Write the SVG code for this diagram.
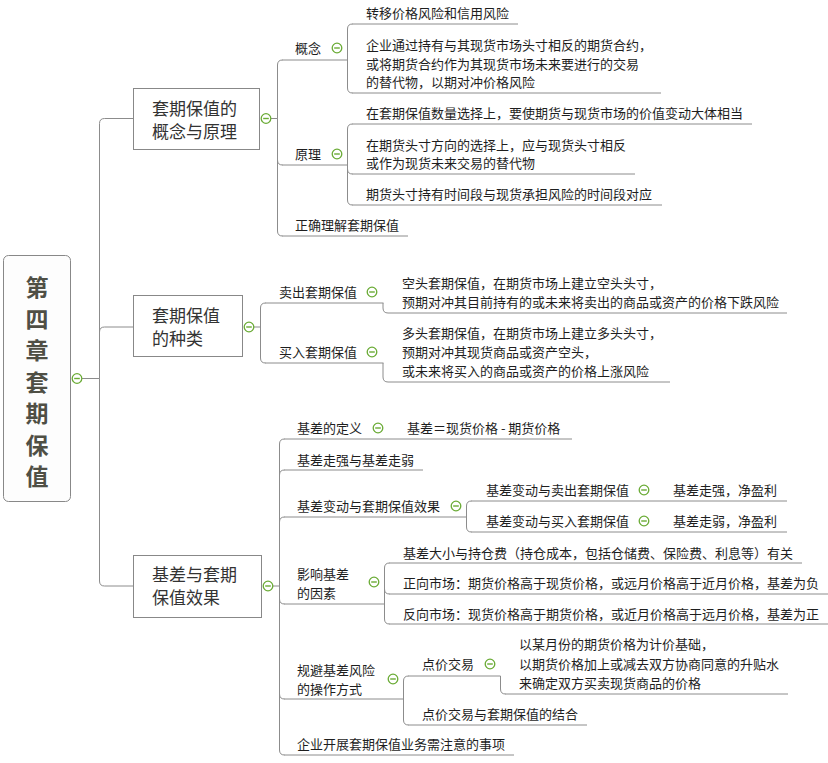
<svg xmlns="http://www.w3.org/2000/svg" width="828" height="763" viewBox="0 0 828 763">
<style>
text{font-family:"Noto Sans CJK SC","Microsoft YaHei",sans-serif;fill:#1e1e1e;}
.t{font-size:13px;}
.b{font-size:17px;fill:#333;}
.root{font-size:23px;font-weight:bold;fill:#4f4f45;}
.box{fill:#fff;stroke:#888;stroke-width:1;}
.u{stroke:#8c8c8c;stroke-width:1;fill:none;}
.c{stroke:#8c8c8c;stroke-width:1;fill:none;}
</style>
<defs>
<g id="m"><circle r="4.8" fill="#fff" stroke="#6aab35" stroke-width="1.3"/><line x1="-2.8" y1="0" x2="2.8" y2="0" stroke="#6aab35" stroke-width="1.4"/></g>
</defs>
<rect width="828" height="763" fill="#fff"/>

<g id="connectors">
<path class="c" d="M82,378.5 H99.5 V123.5 Q99.5,118.5 104.5,118.5 H133"/>
<path class="c" d="M99.5,378.5 V332 Q99.5,327 104.5,327 H133"/>
<path class="c" d="M99.5,378.5 V581 Q99.5,586 104.5,586 H133"/>
<path class="c" d="M271,118.5 H277.5 V65 Q277.5,60 282.5,60"/>
<path class="c" d="M277.5,118.5 V160 Q277.5,165 282.5,165"/>
<path class="c" d="M277.5,118.5 V231 Q277.5,236 282.5,236"/>
<path class="c" d="M347.5,60 V29 Q347.5,24 352.5,24"/>
<path class="c" d="M347.5,60 V88 Q347.5,93 352.5,93"/>
<path class="c" d="M347.5,165 V129 Q347.5,124 352.5,124"/>
<path class="c" d="M347.5,165 V169 Q347.5,174 352.5,174"/>
<path class="c" d="M347.5,165 V200 Q347.5,205 352.5,205"/>
<path class="c" d="M254,327 H260.5 V308 Q260.5,303 265.5,303"/>
<path class="c" d="M260.5,327 V358 Q260.5,363 265.5,363"/>
<path class="c" d="M383,303 V308 Q383,313 388,313"/>
<path class="c" d="M383,363 V377 Q383,382 388,382"/>
<path class="c" d="M273,586 H279.5 V444 Q279.5,439 284.5,439"/>
<path class="c" d="M279.5,586 V475 Q279.5,470 284.5,470"/>
<path class="c" d="M279.5,586 V522 Q279.5,517 284.5,517"/>
<path class="c" d="M279.5,586 V599 Q279.5,604 284.5,604"/>
<path class="c" d="M279.5,586 V694 Q279.5,699 284.5,699"/>
<path class="c" d="M279.5,586 V750 Q279.5,755 284.5,755"/>
<path class="c" d="M392,439 H400"/>
<path class="c" d="M466.5,517 V506 Q466.5,501 471.5,501"/>
<path class="c" d="M466.5,517 V527 Q466.5,532 471.5,532"/>
<path class="c" d="M652,501 H660"/>
<path class="c" d="M652,532 H660"/>
<path class="c" d="M384.5,604 V568 Q384.5,563 389.5,563"/>
<path class="c" d="M384.5,604 V589 Q384.5,594 389.5,594"/>
<path class="c" d="M384.5,604 V619 Q384.5,624 389.5,624"/>
<path class="c" d="M403.5,699 V681 Q403.5,676 408.5,676"/>
<path class="c" d="M403.5,699 V720 Q403.5,725 408.5,725"/>
<path class="c" d="M500.5,676 V689 Q500.5,694 505.5,694"/>
</g>

<g id="root">
<rect x="3.5" y="255.5" width="67" height="246" rx="5" fill="#fdfdfd" stroke="#888"/>
<text class="root" x="37" y="296" text-anchor="middle">第</text>
<text class="root" x="37" y="327.5" text-anchor="middle">四</text>
<text class="root" x="37" y="359" text-anchor="middle">章</text>
<text class="root" x="37" y="390.5" text-anchor="middle">套</text>
<text class="root" x="37" y="422" text-anchor="middle">期</text>
<text class="root" x="37" y="453.5" text-anchor="middle">保</text>
<text class="root" x="37" y="485" text-anchor="middle">值</text>
<use href="#m" x="77" y="378.5"/>
</g>

<g id="n-gainian-yuanli">
<rect class="box" x="133.5" y="88.5" width="126" height="61"/>
<text class="b" x="152" y="114.5">套期保值的</text>
<text class="b" x="152" y="137.5">概念与原理</text>
<use href="#m" x="266" y="118.5"/>
</g>

<g id="n-gainian">
<text class="t" x="295" y="53">概念</text>
<use href="#m" x="337" y="48"/>
<line class="u" x1="282" y1="60" x2="347.5" y2="60"/>
</g>
<g id="n-zhuanyi">
<text class="t" x="366" y="18">转移价格风险和信用风险</text>
<line class="u" x1="352" y1="24" x2="518" y2="24"/>
</g>
<g id="n-qiye">
<text class="t" x="366" y="50">企业通过持有与其现货市场头寸相反的期货合约，</text>
<text class="t" x="366" y="68.5">或将期货合约作为其现货市场未来要进行的交易</text>
<text class="t" x="366" y="87">的替代物，以期对冲价格风险</text>
<line class="u" x1="352" y1="93" x2="661" y2="93"/>
</g>
<g id="n-yuanli">
<text class="t" x="295" y="159">原理</text>
<use href="#m" x="337" y="154"/>
<line class="u" x1="282" y1="165" x2="347.5" y2="165"/>
</g>
<g id="n-shuliang">
<text class="t" x="366" y="118">在套期保值数量选择上，要使期货与现货市场的价值变动大体相当</text>
<line class="u" x1="352" y1="124" x2="752" y2="124"/>
</g>
<g id="n-fangxiang">
<text class="t" x="366" y="149.5">在期货头寸方向的选择上，应与现货头寸相反</text>
<text class="t" x="366" y="168">或作为现货未来交易的替代物</text>
<line class="u" x1="352" y1="174" x2="635" y2="174"/>
</g>
<g id="n-shijian">
<text class="t" x="366" y="199">期货头寸持有时间段与现货承担风险的时间段对应</text>
<line class="u" x1="352" y1="205" x2="662" y2="205"/>
</g>
<g id="n-zhengque">
<text class="t" x="295" y="230">正确理解套期保值</text>
<line class="u" x1="282" y1="236" x2="408" y2="236"/>
</g>

<g id="n-zhonglei">
<rect class="box" x="133.5" y="295.5" width="109" height="61"/>
<text class="b" x="152" y="321.5">套期保值</text>
<text class="b" x="152" y="344.5">的种类</text>
<use href="#m" x="249" y="327"/>
</g>
<g id="n-maichu">
<text class="t" x="279" y="297">卖出套期保值</text>
<use href="#m" x="372" y="292"/>
<line class="u" x1="265" y1="303" x2="383.5" y2="303"/>
</g>
<g id="n-kongtou">
<text class="t" x="402" y="288">空头套期保值，在期货市场上建立空头头寸，</text>
<text class="t" x="402" y="307">预期对冲其目前持有的或未来将卖出的商品或资产的价格下跌风险</text>
<line class="u" x1="388" y1="313" x2="787" y2="313"/>
</g>
<g id="n-mairu">
<text class="t" x="279" y="357">买入套期保值</text>
<use href="#m" x="372" y="352"/>
<line class="u" x1="265" y1="363" x2="383.5" y2="363"/>
</g>
<g id="n-duotou">
<text class="t" x="402" y="338">多头套期保值，在期货市场上建立多头头寸，</text>
<text class="t" x="402" y="357">预期对冲其现货商品或资产空头，</text>
<text class="t" x="402" y="376">或未来将买入的商品或资产的价格上涨风险</text>
<line class="u" x1="388" y1="382" x2="670" y2="382"/>
</g>

<g id="n-jicha">
<rect class="box" x="133.5" y="555.5" width="128" height="62"/>
<text class="b" x="152" y="580.5">基差与套期</text>
<text class="b" x="152" y="603.5">保值效果</text>
<use href="#m" x="268" y="586"/>
</g>
<g id="n-dingyi">
<text class="t" x="297" y="433">基差的定义</text>
<use href="#m" x="378" y="428"/>
<line class="u" x1="284" y1="439" x2="392" y2="439"/>
</g>
<g id="n-gongshi">
<text class="t" x="407" y="433">基差＝现货价格 - 期货价格</text>
<line class="u" x1="400" y1="439" x2="572" y2="439"/>
</g>
<g id="n-zouqiang">
<text class="t" x="297" y="465">基差走强与基差走弱</text>
<line class="u" x1="284" y1="470" x2="423" y2="470"/>
</g>
<g id="n-xiaoguo">
<text class="t" x="297" y="511">基差变动与套期保值效果</text>
<use href="#m" x="456" y="506"/>
<line class="u" x1="284" y1="517" x2="466.5" y2="517"/>
</g>
<g id="n-biandong-maichu">
<text class="t" x="486" y="495">基差变动与卖出套期保值</text>
<use href="#m" x="644" y="490"/>
<line class="u" x1="471" y1="501" x2="652" y2="501"/>
</g>
<g id="n-qiang-yingli">
<text class="t" x="673" y="495">基差走强，净盈利</text>
<line class="u" x1="660" y1="501" x2="787" y2="501"/>
</g>
<g id="n-biandong-mairu">
<text class="t" x="486" y="526">基差变动与买入套期保值</text>
<use href="#m" x="644" y="521"/>
<line class="u" x1="471" y1="532" x2="652" y2="532"/>
</g>
<g id="n-ruo-yingli">
<text class="t" x="673" y="526">基差走弱，净盈利</text>
<line class="u" x1="660" y1="532" x2="787" y2="532"/>
</g>
<g id="n-yingxiang">
<text class="t" x="297" y="579">影响基差</text>
<text class="t" x="297" y="598">的因素</text>
<use href="#m" x="374" y="582"/>
<line class="u" x1="284" y1="604" x2="384.5" y2="604"/>
</g>
<g id="n-daxiao">
<text class="t" x="403" y="558">基差大小与持仓费（持仓成本，包括仓储费、保险费、利息等）有关</text>
<line class="u" x1="389" y1="563" x2="802" y2="563"/>
</g>
<g id="n-zhengxiang">
<text class="t" x="403" y="588">正向市场：期货价格高于现货价格，或远月价格高于近月价格，基差为负</text>
<line class="u" x1="389" y1="594" x2="828" y2="594"/>
</g>
<g id="n-fanxiang">
<text class="t" x="403" y="619">反向市场：现货价格高于期货价格，或近月价格高于远月价格，基差为正</text>
<line class="u" x1="389" y1="624" x2="828" y2="624"/>
</g>
<g id="n-guibi">
<text class="t" x="297" y="675">规避基差风险</text>
<text class="t" x="297" y="694">的操作方式</text>
<use href="#m" x="393" y="679"/>
<line class="u" x1="284" y1="699" x2="403.5" y2="699"/>
</g>
<g id="n-dianjia">
<text class="t" x="422" y="669">点价交易</text>
<use href="#m" x="490" y="664"/>
<line class="u" x1="408" y1="676" x2="500.5" y2="676"/>
</g>
<g id="n-dianjia-desc">
<text class="t" x="519" y="649">以某月份的期货价格为计价基础，</text>
<text class="t" x="519" y="669">以期货价格加上或减去双方协商同意的升贴水</text>
<text class="t" x="519" y="688">来确定双方买卖现货商品的价格</text>
<line class="u" x1="505" y1="694" x2="788" y2="694"/>
</g>
<g id="n-jiehe">
<text class="t" x="422" y="719">点价交易与套期保值的结合</text>
<line class="u" x1="408" y1="725" x2="587" y2="725"/>
</g>
<g id="n-zhuyi">
<text class="t" x="297" y="749">企业开展套期保值业务需注意的事项</text>
<line class="u" x1="284" y1="755" x2="514" y2="755"/>
</g>
</svg>
